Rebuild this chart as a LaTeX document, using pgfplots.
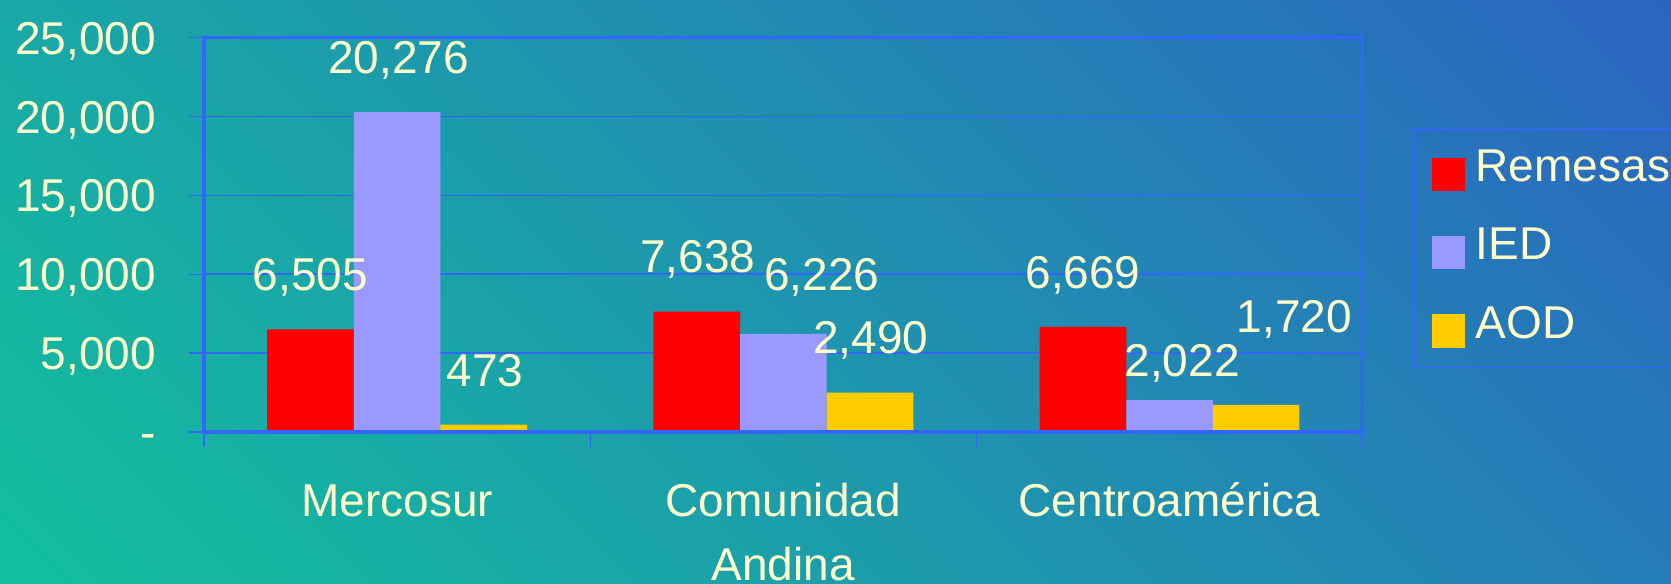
\documentclass[border=0pt]{standalone}
\usepackage{pgfplots}
\pgfplotsset{compat=1.18}
\usepackage{pgfplotstable}
\usepackage{fontspec}
\setmainfont{Liberation Sans}
\definecolor{txt}{HTML}{FFFFCC}
\definecolor{axblue}{HTML}{3366FF}
\definecolor{cRem}{HTML}{FF0000}
\definecolor{cIED}{HTML}{9999FF}
\definecolor{cAOD}{HTML}{FFCC00}
\definecolor{bgG}{HTML}{10C69B}
\definecolor{bgB}{HTML}{2D5FC3}
\newcommand{\chartfont}{\fontsize{23bp}{31.7bp}\selectfont}

\pgfplotstableread{
x y dx dy lbl
0 6505 0 27.6 6,505
1 7638 0.5 27.6 7,638
2 6669 0 27.3 6,669
}\remesas
\pgfplotstableread{
x y dx dy lbl
0 20276 0.75 27.5 20,276
1 6226 19.3 30 6,226
2 2022 6.3 20 2,022
}\ied
\pgfplotstableread{
x y dx dy lbl
0 473 0.75 27.5 473
1 2490 0.5 28 2,490
2 1720 19 44.3 1,720
}\aod

\begin{document}
\begin{tikzpicture}
\begin{scope}
\clip (0,0) rectangle (835.5bp,292bp);
\shade[bottom color=bgG, top color=bgB, shading angle=-45] (-32.25bp,-304bp) rectangle (867.75bp,596bp);
\end{scope}
\begin{axis}[
  at={(102bp,76bp)}, anchor=south west,
  scale only axis, width=579.35bp, height=197.15bp,
  xmin=-0.5, xmax=2.5, ymin=0, ymax=25000,
  clip=false,
  scaled y ticks=false,
  axis line style={axblue, line width=1.6bp},
  tick style={axblue, line width=0.7bp},
  tick align=outside,
  xtick pos=bottom, ytick pos=left,
  major tick length=7.5bp,
  xtick={-0.5,0.5,1.5,2.5}, xticklabels={,,,},
  extra x ticks={0,1,2},
  extra x tick labels={Mercosur,{\begin{tabular}[t]{@{}c@{}}Comunidad\\Andina\end{tabular}},Centroamérica},
  extra x tick style={major tick length=0pt,
    xticklabel style={anchor=north, inner sep=0pt, text height=16.5bp, yshift=-25.7bp}},
  ytick={0,5000,10000,15000,20000,25000},
  yticklabels={-,{5,000},{10,000},{15,000},{20,000},{25,000}},
  yticklabel style={anchor=east, inner sep=0pt, text height=16.5bp, text depth=0pt, xshift=-16.3bp},
  tick label style={font=\chartfont, text=txt},
  ymajorgrids, grid style={axblue, line width=0.8bp},
  ybar, bar width=43.3bp,
  point meta=explicit symbolic,
  nodes near coords,
  visualization depends on=\thisrow{dx} \as \dx,
  visualization depends on=\thisrow{dy} \as \dy,
  every node near coord/.append style={font=\chartfont, text=txt, anchor=center, inner sep=0pt,
     text height=16.5bp, text depth=0pt, xshift=\dx bp, yshift=\dy bp},
  legend style={at={(1.0437,0.7702)}, anchor=north west, draw=axblue, line width=0.6bp, fill=none,
     inner xsep=9.2bp, inner ysep=9.7bp, row sep=17.9bp, font=\chartfont, text=txt,
     nodes={inner sep=0pt, text height=16.5bp, text depth=0pt},
     /tikz/every odd column/.append style={column sep=5.5bp}},
  legend cell align=left,
  legend image code/.code={\fill[#1] (0bp,-13.05bp) rectangle (16.2bp,3.65bp);},
]
\addplot[fill=cRem, draw=none, bar shift=-43.3bp] table[x=x, y=y, meta=lbl] \remesas;
\addplot[fill=cIED, draw=none, bar shift=0bp] table[x=x, y=y, meta=lbl] \ied;
\addplot[fill=cAOD, draw=none, bar shift=43.3bp] table[x=x, y=y, meta=lbl] \aod;
\legend{Remesas, IED, AOD}
\draw[axblue, line width=1.6bp] (rel axis cs:0,0) -- (rel axis cs:1,0);
\end{axis}
\pgfresetboundingbox
\path[use as bounding box] (0,0) rectangle (835.5bp,292bp);
\end{tikzpicture}
\end{document}
